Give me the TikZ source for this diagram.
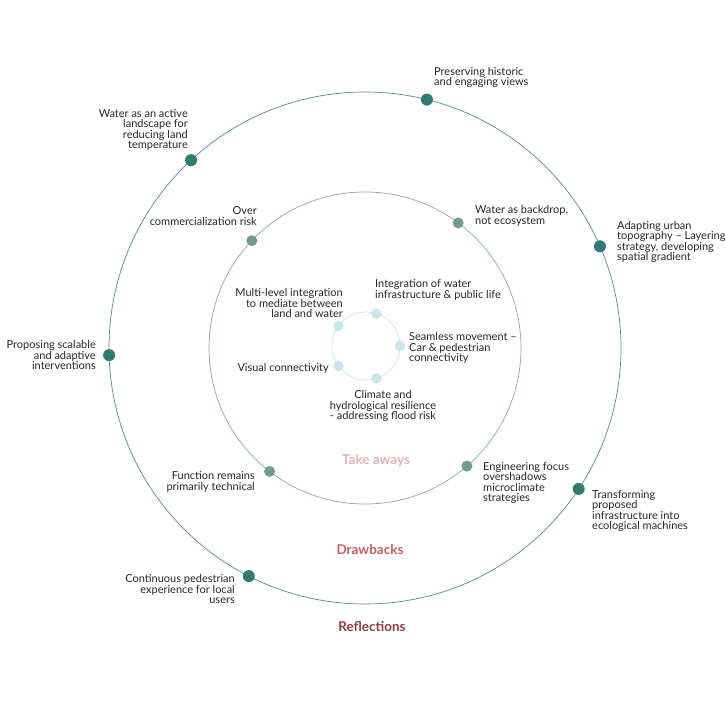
\documentclass[tikz,border=0pt]{standalone}
\usepackage{fontspec}
\setmainfont{Lato}
\usepackage{tikz}
\usetikzlibrary{positioning}

\definecolor{reflc}{HTML}{2F7A73}
\definecolor{drawc}{HTML}{719A94}
\definecolor{takec}{HTML}{C8E6EA}
\definecolor{takeline}{HTML}{CFE3E3}
\definecolor{headtake}{HTML}{E2B2B2}
\definecolor{headdraw}{HTML}{C6605F}
\definecolor{headrefl}{HTML}{8E3D3E}

\begin{document}
\begin{tikzpicture}[x=1pt, y=1pt,
    every node/.style={font=\fontsize{11}{10.4}\selectfont, text=black!85, inner sep=0pt},
    ring/.style={draw=#1, line width=0.7pt},
    dot/.style={circle, fill=#1, minimum size=11pt, inner sep=0pt},
    lbl/.style={align=left},
    rlbl/.style={align=right},
    head/.style={font=\fontsize{13.5}{15}\selectfont\bfseries, text=#1},
]
\useasboundingbox (-365,-372) rectangle (361,348);
\draw[ring=reflc!85] (0,0) circle (256);
\draw[ring=drawc!85] (0,0) circle (156);
\draw[ring=takeline] (1,2) circle (34);
% reflections
\node[dot=reflc, minimum size=12pt] (refl1) at (76:256)    {};
\node[dot=reflc, minimum size=12pt] (refl2) at (23.4:256)  {};
\node[dot=reflc, minimum size=12pt] (refl3) at (-33.4:256) {};
\node[dot=reflc, minimum size=12pt] (refl4) at (243:256)   {};
\node[dot=reflc, minimum size=12pt] (refl5) at (181.6:256) {};
\node[dot=reflc, minimum size=12pt] (refl6) at (132.8:256) {};
% drawbacks
\node[dot=drawc] (draw1) at (53.3:156)  {};
\node[dot=drawc] (draw2) at (-49.2:156) {};
\node[dot=drawc] (draw3) at (232.3:156) {};
\node[dot=drawc] (draw4) at (136.5:156) {};
% take aways
\begin{scope}[shift={(1,2)}]
\foreach \a [count=\i] in {72,0,288,216,144}
  \node[dot=takec, minimum size=10.5pt] (take\i) at (\a:34) {};
\end{scope}

\node[lbl, anchor=south west]  (tPreserve) at (69,260)    {Preserving historic\\and engaging views};
\node[lbl, anchor=west]        (tAdapt)    at (252,106)   {Adapting urban\\topography -- Layering\\strategy, developing\\spatial gradient};
\node[lbl, anchor=west]        (tTransf)   at (227,-163)  {Transforming\\proposed\\infrastructure into\\ecological machines};
\node[rlbl, anchor=east]       (tContin)   at (-130,-241) {Continuous pedestrian\\experience for local\\users};
\node[rlbl, anchor=east]       (tPropos)   at (-269,-7)   {Proposing scalable\\and adaptive\\interventions};
\node[rlbl, anchor=east]       (tActive)   at (-177,218)  {Water as an active\\landscape for\\reducing land\\temperature};

\node[rlbl, anchor=east]       (tOver)     at (-108,132)  {Over\\commercialization risk};
\node[lbl, anchor=west]        (tBackdrop) at (110,132)   {Water as backdrop,\\not ecosystem};
\node[lbl, anchor=west]        (tEngin)    at (118,-135)  {Engineering focus\\overshadows\\microclimate\\strategies};
\node[rlbl, anchor=east]       (tFunct)    at (-110,-134) {Function remains\\primarily technical};

\node[lbl, anchor=west]        (tInteg)    at (10,58)     {Integration of water\\infrastructure \& public life};
\node[lbl, anchor=west]        (tSeaml)    at (44,0)      {Seamless movement --\\Car \& pedestrian\\connectivity};
\node[align=center]            (tClimate)  at (18,-58)    {Climate and\\hydrological resilience\\- addressing flood risk};
\node[rlbl, anchor=east]       (tVisual)   at (-36,-20)   {Visual connectivity};
\node[rlbl, anchor=east]       (tMulti)    at (-22,45)    {Multi-level integration\\to mediate between\\land and water};

\node[head=headtake] (hTake) at (11,-113)  {Take aways};
\node[head=headdraw] (hDraw) at (5,-202)   {Drawbacks};
\node[head=headrefl] (hRefl) at (7,-279)   {Reflections};
\end{tikzpicture}
\end{document}
